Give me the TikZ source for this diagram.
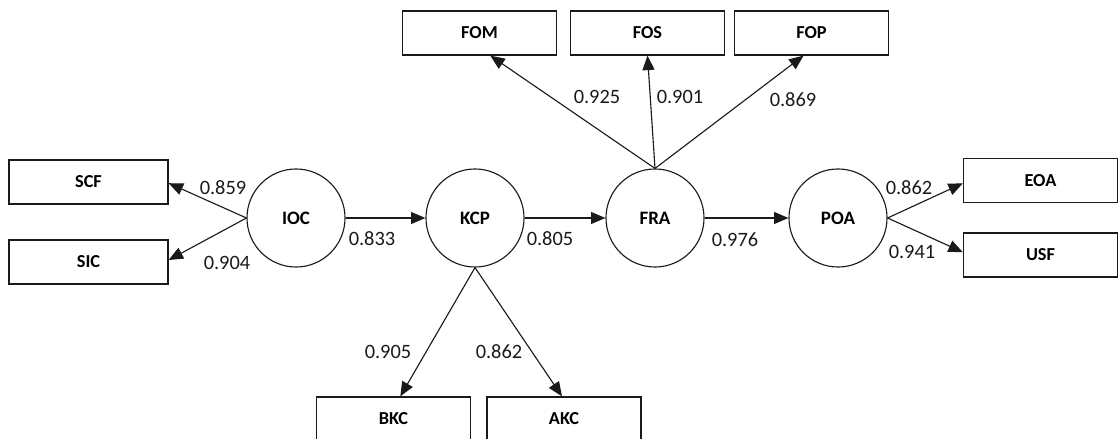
\documentclass[tikz,border=0pt]{standalone}
\usepackage{fontspec}
\setmainfont{Carlito}
\usepackage{xcolor}
\usetikzlibrary{arrows.meta}
\definecolor{ink}{HTML}{1A1A1A}
\tikzset{
  latent/.style={circle, draw=ink, line width=0.8pt, minimum size=2.45cm, inner sep=0pt, font=\bfseries\fontsize{13.5}{16}\selectfont},
  ind/.style={rectangle, draw=ink, line width=0.9pt, minimum width=3.85cm, minimum height=1.1cm, font=\bfseries\fontsize{13}{15}\selectfont},
  load/.style={text=ink, font=\fontsize{14.5}{16}\selectfont},
  link/.style={draw=ink, line width=0.8pt, -{Triangle[length=0.36cm,width=0.3cm]}}
}

\begin{document}
\begin{tikzpicture}[x=0.025cm, y=-0.025cm]
  \useasboundingbox (0,0) rectangle (1119,439);

  % latent constructs
  \node[latent] (IOC) at (296,218) {IOC};
  \node[latent] (KCP) at (475,218) {KCP};
  \node[latent] (FRA) at (655,218) {FRA};
  \node[latent] (POA) at (838,218) {POA};

  % indicators
  \node[ind, minimum width=3.975cm] (SCF) at (88.5,182) {SCF};
  \node[ind, minimum width=3.975cm] (SIC) at (88.5,262) {SIC};
  \node[ind] (FOM) at (479.5,33) {FOM};
  \node[ind] (FOS) at (647.5,33) {FOS};
  \node[ind] (FOP) at (811.5,33) {FOP};
  \node[ind] (EOA) at (1040.5,180.5) {EOA};
  \node[ind] (USF) at (1040.5,255) {USF};
  \node[ind] (BKC) at (393.5,419) {BKC};
  \node[ind] (AKC) at (564,419) {AKC};

  % structural paths
  \draw[link] (IOC) -- (KCP);
  \draw[link] (KCP) -- (FRA);
  \draw[link] (FRA) -- (POA);

  % loadings
  \draw[link] (IOC.west) -- ([yshift=-0.03cm]SCF.east);
  \draw[link] (IOC.west) -- ([yshift=0.05cm]SIC.east);
  \draw[link] (FRA.north) -- ([xshift=0.27cm]FOM.south);
  \draw[link] (FRA.north) -- (FOS.south);
  \draw[link] (FRA.north) -- ([xshift=-0.2cm]FOP.south);
  \draw[link] (KCP.south) -- ([xshift=0.17cm]BKC.north);
  \draw[link] (KCP.south) -- ([xshift=-0.05cm]AKC.north);
  \draw[link] (POA.east) -- ([yshift=-0.07cm]EOA.west);
  \draw[link] (POA.east) -- ([yshift=0.07cm]USF.west);

  % coefficients
  \node[load] (l1) at (223,188) {0.859};
  \node[load] (l2) at (227,263) {0.904};
  \node[load] (l3) at (372,239) {0.833};
  \node[load] (l4) at (550,239) {0.805};
  \node[load] (l5) at (735,240) {0.976};
  \node[load] (l6) at (909,188) {0.862};
  \node[load] (l7) at (912,252) {0.941};
  \node[load] (l8) at (597,97) {0.925};
  \node[load] (l9) at (680,97) {0.901};
  \node[load] (l10) at (793,100) {0.869};
  \node[load] (l11) at (388,352) {0.905};
  \node[load] (l12) at (499,352) {0.862};
\end{tikzpicture}
\end{document}
